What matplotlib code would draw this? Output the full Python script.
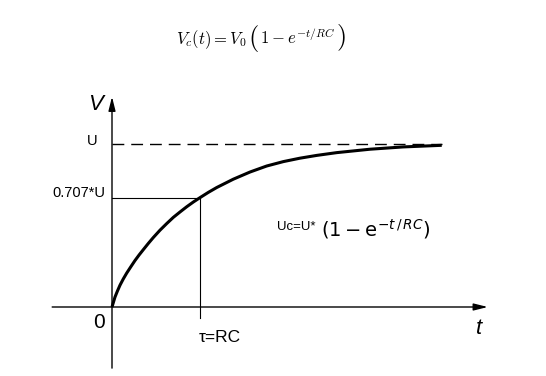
import matplotlib
matplotlib.use('Agg')
import matplotlib.pyplot as plt
from matplotlib.offsetbox import TextArea, HPacker, AnchoredOffsetbox

# charging curve (t in units of tau, V in units of U)
curve_t = [0.0, 0.034, 0.0625, 0.091, 0.128, 0.167, 0.214, 0.261, 0.309, 0.356, 0.4125,
           0.469, 0.545, 0.622, 0.697, 0.773, 0.849, 0.924, 1.0, 1.094, 1.190, 1.378,
           1.568, 1.758, 1.947, 2.136, 2.326, 2.553, 2.932, 3.307, 3.747]
curve_v = [0.0, 0.061, 0.099, 0.134, 0.172, 0.208, 0.247, 0.285, 0.320, 0.352, 0.390,
           0.426, 0.471, 0.512, 0.550, 0.583, 0.615, 0.644, 0.671, 0.703, 0.733, 0.784,
           0.828, 0.865, 0.892, 0.913, 0.930, 0.947, 0.968, 0.982, 0.992]

u_level = 1.0
tau = 1.0
tau_level = 0.671
t_end = 3.75

fig = plt.figure(figsize=(5.46, 3.76), dpi=100, facecolor='w')
ax = fig.add_axes([0, 0, 1, 1])
ax.set_xlim(-112 / 88, (546 - 112) / 88)
ax.set_ylim((307 - 376) / 163, 307 / 163)
ax.axis('off')

sans = 'Liberation Sans'

# axes with arrows
arr = dict(arrowstyle='-|>,head_length=0.6,head_width=0.15', lw=1.0, color='k',
           mutation_scale=14, shrinkA=0, shrinkB=0)
ax.annotate('', xy=(4.27, 0), xytext=(-0.68, 0), arrowprops=arr)
ax.annotate('', xy=(0, 1.29), xytext=(0, -0.375), arrowprops=arr)

# asymptote
dash, = ax.plot([0, t_end], [u_level, u_level], color='k', lw=1.0)
dash.set_dashes([8.5, 5])

# tau marker lines
ax.plot([0, tau], [tau_level, tau_level], color='k', lw=0.8)
ax.plot([tau, tau], [tau_level, -0.068], color='k', lw=0.8)

# curve
ax.plot(curve_t, curve_v, color='k', lw=2.2, solid_capstyle='butt', solid_joinstyle='round')

# labels
ax.text(-0.19, 1.24, 'V', family=sans, style='italic', fontsize=16, ha='center', va='center')
ax.text(4.17, -0.13, 't', family=sans, style='italic', fontsize=16, ha='center', va='center')
ax.text(-0.148, -0.095, '0', family=sans, fontsize=15, ha='center', va='center')
ax.text(-0.17, 1.02, 'U', family=sans, fontsize=10.5, ha='right', va='center')
ax.text(-0.08, 0.70, '0.707*U', family=sans, fontsize=10.5, ha='right', va='center')
ax.text(0.98, -0.185, '\u03c4=RC', family=sans, fontsize=12.5, ha='left', va='center')
ax.text(1.87, 0.49, 'Uc=U*', family=sans, fontsize=9.5, ha='left', va='center')
ax.text(2.38, 0.48, r'$(1 - \mathrm{e}^{-t\,/\,RC})$', math_fontfamily='dejavusans',
        fontsize=14, ha='left', va='center')

# title formula, with big parentheses
small = dict(math_fontfamily='cm', fontsize=12)
big = dict(math_fontfamily='cm', fontsize=19)
parts = [TextArea(r'$V_c(t) = V_0\;$', textprops=small),
         TextArea(r'$($', textprops=big),
         TextArea(r'$1 - e^{-t/RC}$', textprops=small),
         TextArea(r'$)$', textprops=big)]
row = HPacker(children=parts, align='baseline', pad=0, sep=1)
box = AnchoredOffsetbox(loc='center', child=row, frameon=False, pad=0, borderpad=0,
                        bbox_to_anchor=(261 / 546, 1 - 38 / 376),
                        bbox_transform=fig.transFigure)
ax.add_artist(box)

plt.savefig('out.png', dpi=100, facecolor='w')
